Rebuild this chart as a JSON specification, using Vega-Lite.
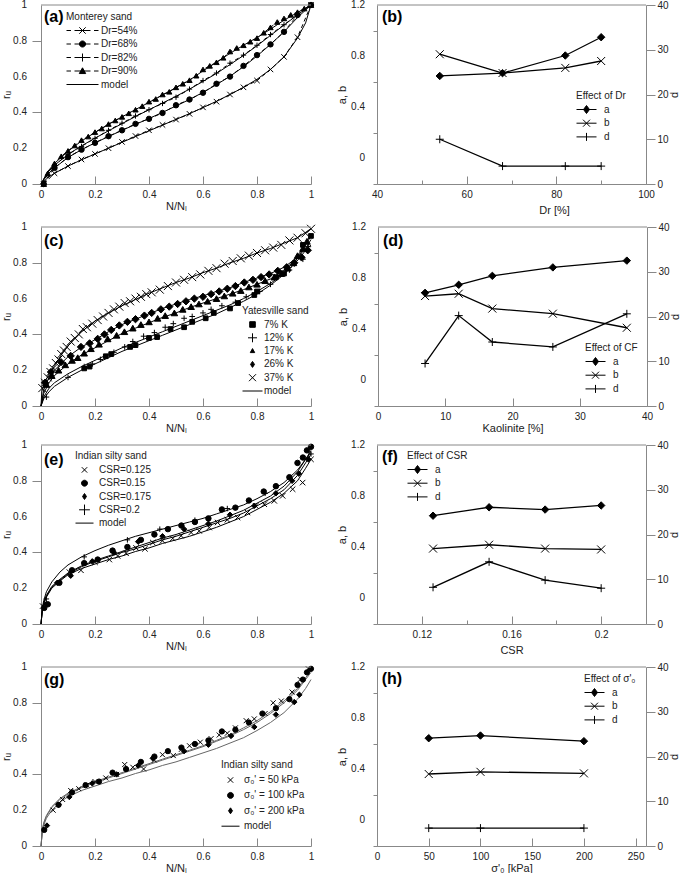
{
"$schema":"https://vega.github.io/schema/vega-lite/v6.json",
"padding":{"left":0,"top":0,"right":0,"bottom":0},
"spacing":7,
"config":{
 "view":{"stroke":null},
 "font":"Liberation Sans",
 "axis":{"labelFont":"Liberation Sans","labelFontSize":10,"labelColor":"#222","titleFont":"Liberation Sans","titleFontSize":11,"titleFontWeight":"normal","titleColor":"#222","domainColor":"#888","tickColor":"#888","grid":false,"labelFlush":false,"labelOverlap":false},
 "legend":{"labelFont":"Liberation Sans","labelFontSize":10,"labelColor":"#222","titleFont":"Liberation Sans","titleFontSize":10,"titleFontWeight":"normal","titleColor":"#222","symbolStrokeWidth":1,"rowPadding":2.5,"titlePadding":3,"padding":0,"symbolOpacity":1,"clipHeight":11},
 "text":{"font":"Liberation Sans"}
},
"datasets":{
"yticks":[{"v":0},{"v":0.2},{"v":0.4},{"v":0.6},{"v":0.8},{"v":1}],
"yticks2":[{"v":0},{"v":0.4},{"v":0.8},{"v":1.2}],
"a_pts":[
{"s":"Dr=54%","x":0.01,"y":0},{"s":"Dr=54%","x":0.05,"y":0.06},{"s":"Dr=54%","x":0.1,"y":0.1},{"s":"Dr=54%","x":0.15,"y":0.137},{"s":"Dr=54%","x":0.2,"y":0.168},{"s":"Dr=54%","x":0.25,"y":0.2},{"s":"Dr=54%","x":0.3,"y":0.235},{"s":"Dr=54%","x":0.35,"y":0.268},{"s":"Dr=54%","x":0.4,"y":0.3},{"s":"Dr=54%","x":0.45,"y":0.33},{"s":"Dr=54%","x":0.5,"y":0.36},{"s":"Dr=54%","x":0.55,"y":0.392},{"s":"Dr=54%","x":0.6,"y":0.428},{"s":"Dr=54%","x":0.65,"y":0.46},{"s":"Dr=54%","x":0.7,"y":0.5},{"s":"Dr=54%","x":0.75,"y":0.54},{"s":"Dr=54%","x":0.8,"y":0.578},{"s":"Dr=54%","x":0.85,"y":0.64},{"s":"Dr=54%","x":0.9,"y":0.71},{"s":"Dr=54%","x":0.95,"y":0.82},{"s":"Dr=54%","x":1,"y":1},
{"s":"Dr=68%","x":0.01,"y":0},{"s":"Dr=68%","x":0.05,"y":0.09},{"s":"Dr=68%","x":0.1,"y":0.15},{"s":"Dr=68%","x":0.15,"y":0.192},{"s":"Dr=68%","x":0.2,"y":0.23},{"s":"Dr=68%","x":0.25,"y":0.267},{"s":"Dr=68%","x":0.3,"y":0.3},{"s":"Dr=68%","x":0.35,"y":0.336},{"s":"Dr=68%","x":0.4,"y":0.364},{"s":"Dr=68%","x":0.45,"y":0.397},{"s":"Dr=68%","x":0.5,"y":0.44},{"s":"Dr=68%","x":0.55,"y":0.472},{"s":"Dr=68%","x":0.6,"y":0.51},{"s":"Dr=68%","x":0.65,"y":0.56},{"s":"Dr=68%","x":0.7,"y":0.6},{"s":"Dr=68%","x":0.75,"y":0.66},{"s":"Dr=68%","x":0.8,"y":0.72},{"s":"Dr=68%","x":0.85,"y":0.78},{"s":"Dr=68%","x":0.9,"y":0.85},{"s":"Dr=68%","x":0.95,"y":0.944},{"s":"Dr=68%","x":1,"y":1},
{"s":"Dr=82%","x":0.01,"y":0},{"s":"Dr=82%","x":0.05,"y":0.105},{"s":"Dr=82%","x":0.1,"y":0.165},{"s":"Dr=82%","x":0.15,"y":0.21},{"s":"Dr=82%","x":0.2,"y":0.255},{"s":"Dr=82%","x":0.25,"y":0.3},{"s":"Dr=82%","x":0.3,"y":0.34},{"s":"Dr=82%","x":0.35,"y":0.38},{"s":"Dr=82%","x":0.4,"y":0.415},{"s":"Dr=82%","x":0.45,"y":0.45},{"s":"Dr=82%","x":0.5,"y":0.485},{"s":"Dr=82%","x":0.55,"y":0.53},{"s":"Dr=82%","x":0.6,"y":0.578},{"s":"Dr=82%","x":0.65,"y":0.62},{"s":"Dr=82%","x":0.7,"y":0.675},{"s":"Dr=82%","x":0.75,"y":0.72},{"s":"Dr=82%","x":0.8,"y":0.775},{"s":"Dr=82%","x":0.85,"y":0.835},{"s":"Dr=82%","x":0.9,"y":0.89},{"s":"Dr=82%","x":0.95,"y":0.945},{"s":"Dr=82%","x":1,"y":1},
{"s":"Dr=90%","x":0.01,"y":0},{"s":"Dr=90%","x":0.025,"y":0.06},{"s":"Dr=90%","x":0.05,"y":0.115},{"s":"Dr=90%","x":0.075,"y":0.155},{"s":"Dr=90%","x":0.1,"y":0.185},{"s":"Dr=90%","x":0.125,"y":0.215},{"s":"Dr=90%","x":0.15,"y":0.245},{"s":"Dr=90%","x":0.175,"y":0.265},{"s":"Dr=90%","x":0.2,"y":0.29},{"s":"Dr=90%","x":0.225,"y":0.31},{"s":"Dr=90%","x":0.25,"y":0.335},{"s":"Dr=90%","x":0.275,"y":0.355},{"s":"Dr=90%","x":0.3,"y":0.375},{"s":"Dr=90%","x":0.325,"y":0.395},{"s":"Dr=90%","x":0.35,"y":0.415},{"s":"Dr=90%","x":0.375,"y":0.435},{"s":"Dr=90%","x":0.4,"y":0.46},{"s":"Dr=90%","x":0.425,"y":0.475},{"s":"Dr=90%","x":0.45,"y":0.5},{"s":"Dr=90%","x":0.475,"y":0.515},{"s":"Dr=90%","x":0.5,"y":0.54},{"s":"Dr=90%","x":0.525,"y":0.56},{"s":"Dr=90%","x":0.55,"y":0.58},{"s":"Dr=90%","x":0.575,"y":0.605},{"s":"Dr=90%","x":0.6,"y":0.64},{"s":"Dr=90%","x":0.625,"y":0.66},{"s":"Dr=90%","x":0.65,"y":0.68},{"s":"Dr=90%","x":0.675,"y":0.705},{"s":"Dr=90%","x":0.7,"y":0.74},{"s":"Dr=90%","x":0.725,"y":0.76},{"s":"Dr=90%","x":0.75,"y":0.775},{"s":"Dr=90%","x":0.775,"y":0.795},{"s":"Dr=90%","x":0.8,"y":0.815},{"s":"Dr=90%","x":0.825,"y":0.845},{"s":"Dr=90%","x":0.85,"y":0.875},{"s":"Dr=90%","x":0.875,"y":0.905},{"s":"Dr=90%","x":0.9,"y":0.925},{"s":"Dr=90%","x":0.925,"y":0.945},{"s":"Dr=90%","x":0.95,"y":0.96},{"s":"Dr=90%","x":0.975,"y":0.98},{"s":"Dr=90%","x":1,"y":1}
],
"a_mod":[
{"s":"Dr=54%","x":0,"y":0},{"s":"Dr=54%","x":0.025,"y":0.035},{"s":"Dr=54%","x":0.05,"y":0.06},{"s":"Dr=54%","x":0.1,"y":0.1},{"s":"Dr=54%","x":0.15,"y":0.135},{"s":"Dr=54%","x":0.2,"y":0.168},{"s":"Dr=54%","x":0.25,"y":0.2},{"s":"Dr=54%","x":0.3,"y":0.233},{"s":"Dr=54%","x":0.35,"y":0.265},{"s":"Dr=54%","x":0.4,"y":0.297},{"s":"Dr=54%","x":0.45,"y":0.329},{"s":"Dr=54%","x":0.5,"y":0.361},{"s":"Dr=54%","x":0.55,"y":0.393},{"s":"Dr=54%","x":0.6,"y":0.427},{"s":"Dr=54%","x":0.65,"y":0.462},{"s":"Dr=54%","x":0.7,"y":0.5},{"s":"Dr=54%","x":0.75,"y":0.54},{"s":"Dr=54%","x":0.8,"y":0.585},{"s":"Dr=54%","x":0.85,"y":0.64},{"s":"Dr=54%","x":0.9,"y":0.71},{"s":"Dr=54%","x":0.95,"y":0.815},{"s":"Dr=54%","x":0.98,"y":0.9},{"s":"Dr=54%","x":1,"y":1},
{"s":"Dr=68%","x":0,"y":0},{"s":"Dr=68%","x":0.025,"y":0.055},{"s":"Dr=68%","x":0.05,"y":0.09},{"s":"Dr=68%","x":0.1,"y":0.148},{"s":"Dr=68%","x":0.15,"y":0.192},{"s":"Dr=68%","x":0.2,"y":0.23},{"s":"Dr=68%","x":0.25,"y":0.265},{"s":"Dr=68%","x":0.3,"y":0.3},{"s":"Dr=68%","x":0.35,"y":0.333},{"s":"Dr=68%","x":0.4,"y":0.366},{"s":"Dr=68%","x":0.45,"y":0.4},{"s":"Dr=68%","x":0.5,"y":0.436},{"s":"Dr=68%","x":0.55,"y":0.472},{"s":"Dr=68%","x":0.6,"y":0.512},{"s":"Dr=68%","x":0.65,"y":0.555},{"s":"Dr=68%","x":0.7,"y":0.602},{"s":"Dr=68%","x":0.75,"y":0.655},{"s":"Dr=68%","x":0.8,"y":0.715},{"s":"Dr=68%","x":0.85,"y":0.78},{"s":"Dr=68%","x":0.9,"y":0.85},{"s":"Dr=68%","x":0.95,"y":0.93},{"s":"Dr=68%","x":1,"y":1},
{"s":"Dr=82%","x":0,"y":0},{"s":"Dr=82%","x":0.025,"y":0.065},{"s":"Dr=82%","x":0.05,"y":0.105},{"s":"Dr=82%","x":0.1,"y":0.165},{"s":"Dr=82%","x":0.15,"y":0.213},{"s":"Dr=82%","x":0.2,"y":0.256},{"s":"Dr=82%","x":0.25,"y":0.297},{"s":"Dr=82%","x":0.3,"y":0.337},{"s":"Dr=82%","x":0.35,"y":0.377},{"s":"Dr=82%","x":0.4,"y":0.415},{"s":"Dr=82%","x":0.45,"y":0.452},{"s":"Dr=82%","x":0.5,"y":0.49},{"s":"Dr=82%","x":0.55,"y":0.53},{"s":"Dr=82%","x":0.6,"y":0.573},{"s":"Dr=82%","x":0.65,"y":0.618},{"s":"Dr=82%","x":0.7,"y":0.667},{"s":"Dr=82%","x":0.75,"y":0.718},{"s":"Dr=82%","x":0.8,"y":0.772},{"s":"Dr=82%","x":0.85,"y":0.83},{"s":"Dr=82%","x":0.9,"y":0.888},{"s":"Dr=82%","x":0.95,"y":0.945},{"s":"Dr=82%","x":1,"y":1},
{"s":"Dr=90%","x":0,"y":0},{"s":"Dr=90%","x":0.025,"y":0.07},{"s":"Dr=90%","x":0.05,"y":0.115},{"s":"Dr=90%","x":0.1,"y":0.183},{"s":"Dr=90%","x":0.15,"y":0.24},{"s":"Dr=90%","x":0.2,"y":0.288},{"s":"Dr=90%","x":0.25,"y":0.333},{"s":"Dr=90%","x":0.3,"y":0.375},{"s":"Dr=90%","x":0.35,"y":0.416},{"s":"Dr=90%","x":0.4,"y":0.456},{"s":"Dr=90%","x":0.45,"y":0.497},{"s":"Dr=90%","x":0.5,"y":0.538},{"s":"Dr=90%","x":0.55,"y":0.58},{"s":"Dr=90%","x":0.6,"y":0.632},{"s":"Dr=90%","x":0.65,"y":0.68},{"s":"Dr=90%","x":0.7,"y":0.73},{"s":"Dr=90%","x":0.75,"y":0.775},{"s":"Dr=90%","x":0.8,"y":0.818},{"s":"Dr=90%","x":0.85,"y":0.865},{"s":"Dr=90%","x":0.9,"y":0.915},{"s":"Dr=90%","x":0.95,"y":0.958},{"s":"Dr=90%","x":1,"y":1}
],
"c_pts":[
{"s":"7% K","x":0.16,"y":0.21},{"s":"7% K","x":0.18,"y":0.22},{"s":"7% K","x":0.24,"y":0.278},{"s":"7% K","x":0.26,"y":0.29},{"s":"7% K","x":0.33,"y":0.33},{"s":"7% K","x":0.35,"y":0.34},{"s":"7% K","x":0.4,"y":0.38},{"s":"7% K","x":0.43,"y":0.385},{"s":"7% K","x":0.48,"y":0.43},{"s":"7% K","x":0.53,"y":0.44},{"s":"7% K","x":0.56,"y":0.47},{"s":"7% K","x":0.61,"y":0.49},{"s":"7% K","x":0.64,"y":0.52},{"s":"7% K","x":0.7,"y":0.545},{"s":"7% K","x":0.73,"y":0.575},{"s":"7% K","x":0.79,"y":0.62},{"s":"7% K","x":0.8,"y":0.64},{"s":"7% K","x":0.87,"y":0.72},{"s":"7% K","x":0.9,"y":0.74},{"s":"7% K","x":0.97,"y":0.9},{"s":"7% K","x":1,"y":0.95},
{"s":"12% K","x":0.02,"y":0.05},{"s":"12% K","x":0.1,"y":0.16},{"s":"12% K","x":0.16,"y":0.22},{"s":"12% K","x":0.19,"y":0.235},{"s":"12% K","x":0.22,"y":0.26},{"s":"12% K","x":0.27,"y":0.3},{"s":"12% K","x":0.31,"y":0.33},{"s":"12% K","x":0.34,"y":0.36},{"s":"12% K","x":0.38,"y":0.39},{"s":"12% K","x":0.42,"y":0.41},{"s":"12% K","x":0.46,"y":0.44},{"s":"12% K","x":0.49,"y":0.46},{"s":"12% K","x":0.53,"y":0.49},{"s":"12% K","x":0.56,"y":0.5},{"s":"12% K","x":0.6,"y":0.52},{"s":"12% K","x":0.63,"y":0.54},{"s":"12% K","x":0.67,"y":0.56},{"s":"12% K","x":0.72,"y":0.58},{"s":"12% K","x":0.76,"y":0.61},{"s":"12% K","x":0.81,"y":0.64},{"s":"12% K","x":0.85,"y":0.68},{"s":"12% K","x":0.92,"y":0.76},{"s":"12% K","x":0.97,"y":0.82},{"s":"12% K","x":0.99,"y":0.89},
{"s":"17% K","x":0.02,"y":0.12},{"s":"17% K","x":0.04,"y":0.17},{"s":"17% K","x":0.065,"y":0.2},{"s":"17% K","x":0.09,"y":0.23},{"s":"17% K","x":0.115,"y":0.255},{"s":"17% K","x":0.136,"y":0.27},{"s":"17% K","x":0.16,"y":0.295},{"s":"17% K","x":0.185,"y":0.32},{"s":"17% K","x":0.215,"y":0.345},{"s":"17% K","x":0.247,"y":0.375},{"s":"17% K","x":0.28,"y":0.395},{"s":"17% K","x":0.309,"y":0.415},{"s":"17% K","x":0.34,"y":0.435},{"s":"17% K","x":0.37,"y":0.455},{"s":"17% K","x":0.4,"y":0.47},{"s":"17% K","x":0.432,"y":0.49},{"s":"17% K","x":0.46,"y":0.505},{"s":"17% K","x":0.494,"y":0.52},{"s":"17% K","x":0.525,"y":0.54},{"s":"17% K","x":0.556,"y":0.555},{"s":"17% K","x":0.585,"y":0.57},{"s":"17% K","x":0.617,"y":0.585},{"s":"17% K","x":0.65,"y":0.6},{"s":"17% K","x":0.679,"y":0.615},{"s":"17% K","x":0.71,"y":0.63},{"s":"17% K","x":0.74,"y":0.645},{"s":"17% K","x":0.77,"y":0.665},{"s":"17% K","x":0.8,"y":0.68},{"s":"17% K","x":0.83,"y":0.7},{"s":"17% K","x":0.864,"y":0.72},{"s":"17% K","x":0.89,"y":0.74},{"s":"17% K","x":0.914,"y":0.77},{"s":"17% K","x":0.935,"y":0.8},{"s":"17% K","x":0.95,"y":0.84},{"s":"17% K","x":0.97,"y":0.88},{"s":"17% K","x":0.985,"y":0.92},
{"s":"26% K","x":0.015,"y":0.13},{"s":"26% K","x":0.037,"y":0.19},{"s":"26% K","x":0.074,"y":0.245},{"s":"26% K","x":0.11,"y":0.28},{"s":"26% K","x":0.148,"y":0.33},{"s":"26% K","x":0.18,"y":0.35},{"s":"26% K","x":0.21,"y":0.375},{"s":"26% K","x":0.235,"y":0.4},{"s":"26% K","x":0.26,"y":0.425},{"s":"26% K","x":0.29,"y":0.45},{"s":"26% K","x":0.32,"y":0.47},{"s":"26% K","x":0.35,"y":0.485},{"s":"26% K","x":0.383,"y":0.505},{"s":"26% K","x":0.41,"y":0.52},{"s":"26% K","x":0.444,"y":0.54},{"s":"26% K","x":0.475,"y":0.555},{"s":"26% K","x":0.506,"y":0.57},{"s":"26% K","x":0.537,"y":0.585},{"s":"26% K","x":0.568,"y":0.6},{"s":"26% K","x":0.6,"y":0.61},{"s":"26% K","x":0.63,"y":0.625},{"s":"26% K","x":0.66,"y":0.64},{"s":"26% K","x":0.69,"y":0.655},{"s":"26% K","x":0.72,"y":0.67},{"s":"26% K","x":0.753,"y":0.69},{"s":"26% K","x":0.785,"y":0.705},{"s":"26% K","x":0.815,"y":0.72},{"s":"26% K","x":0.845,"y":0.735},{"s":"26% K","x":0.877,"y":0.755},{"s":"26% K","x":0.91,"y":0.775},{"s":"26% K","x":0.938,"y":0.8},{"s":"26% K","x":0.965,"y":0.83},{"s":"26% K","x":0.988,"y":0.87},
{"s":"37% K","x":0.005,"y":0.1},{"s":"37% K","x":0.015,"y":0.13},{"s":"37% K","x":0.025,"y":0.16},{"s":"37% K","x":0.035,"y":0.19},{"s":"37% K","x":0.045,"y":0.21},{"s":"37% K","x":0.055,"y":0.24},{"s":"37% K","x":0.065,"y":0.26},{"s":"37% K","x":0.075,"y":0.29},{"s":"37% K","x":0.085,"y":0.31},{"s":"37% K","x":0.095,"y":0.33},{"s":"37% K","x":0.11,"y":0.36},{"s":"37% K","x":0.125,"y":0.38},{"s":"37% K","x":0.14,"y":0.4},{"s":"37% K","x":0.155,"y":0.43},{"s":"37% K","x":0.17,"y":0.44},{"s":"37% K","x":0.19,"y":0.46},{"s":"37% K","x":0.21,"y":0.48},{"s":"37% K","x":0.23,"y":0.5},{"s":"37% K","x":0.25,"y":0.52},{"s":"37% K","x":0.27,"y":0.54},{"s":"37% K","x":0.29,"y":0.555},{"s":"37% K","x":0.31,"y":0.575},{"s":"37% K","x":0.33,"y":0.585},{"s":"37% K","x":0.35,"y":0.6},{"s":"37% K","x":0.37,"y":0.61},{"s":"37% K","x":0.39,"y":0.625},{"s":"37% K","x":0.41,"y":0.635},{"s":"37% K","x":0.44,"y":0.65},{"s":"37% K","x":0.47,"y":0.67},{"s":"37% K","x":0.5,"y":0.69},{"s":"37% K","x":0.53,"y":0.705},{"s":"37% K","x":0.56,"y":0.72},{"s":"37% K","x":0.59,"y":0.735},{"s":"37% K","x":0.62,"y":0.755},{"s":"37% K","x":0.65,"y":0.77},{"s":"37% K","x":0.68,"y":0.795},{"s":"37% K","x":0.71,"y":0.81},{"s":"37% K","x":0.74,"y":0.825},{"s":"37% K","x":0.77,"y":0.84},{"s":"37% K","x":0.8,"y":0.855},{"s":"37% K","x":0.83,"y":0.87},{"s":"37% K","x":0.86,"y":0.885},{"s":"37% K","x":0.89,"y":0.9},{"s":"37% K","x":0.92,"y":0.925},{"s":"37% K","x":0.95,"y":0.94},{"s":"37% K","x":0.98,"y":0.965},{"s":"37% K","x":1,"y":0.99}
],
"c_mod":[
{"s":"7% K","x":0,"y":0},{"s":"7% K","x":0.01,"y":0.04},{"s":"7% K","x":0.03,"y":0.08},{"s":"7% K","x":0.05,"y":0.11},{"s":"7% K","x":0.1,"y":0.16},{"s":"7% K","x":0.15,"y":0.2},{"s":"7% K","x":0.2,"y":0.235},{"s":"7% K","x":0.25,"y":0.27},{"s":"7% K","x":0.3,"y":0.305},{"s":"7% K","x":0.35,"y":0.335},{"s":"7% K","x":0.4,"y":0.365},{"s":"7% K","x":0.45,"y":0.395},{"s":"7% K","x":0.5,"y":0.425},{"s":"7% K","x":0.55,"y":0.455},{"s":"7% K","x":0.6,"y":0.485},{"s":"7% K","x":0.65,"y":0.515},{"s":"7% K","x":0.7,"y":0.55},{"s":"7% K","x":0.75,"y":0.585},{"s":"7% K","x":0.8,"y":0.625},{"s":"7% K","x":0.85,"y":0.675},{"s":"7% K","x":0.9,"y":0.735},{"s":"7% K","x":0.93,"y":0.78},{"s":"7% K","x":0.96,"y":0.85},{"s":"7% K","x":0.98,"y":0.9},{"s":"7% K","x":1,"y":0.95},
{"s":"12% K","x":0,"y":0},{"s":"12% K","x":0.01,"y":0.05},{"s":"12% K","x":0.03,"y":0.1},{"s":"12% K","x":0.05,"y":0.13},{"s":"12% K","x":0.1,"y":0.18},{"s":"12% K","x":0.15,"y":0.22},{"s":"12% K","x":0.2,"y":0.255},{"s":"12% K","x":0.25,"y":0.29},{"s":"12% K","x":0.3,"y":0.325},{"s":"12% K","x":0.35,"y":0.355},{"s":"12% K","x":0.4,"y":0.385},{"s":"12% K","x":0.45,"y":0.415},{"s":"12% K","x":0.5,"y":0.445},{"s":"12% K","x":0.55,"y":0.475},{"s":"12% K","x":0.6,"y":0.505},{"s":"12% K","x":0.65,"y":0.535},{"s":"12% K","x":0.7,"y":0.565},{"s":"12% K","x":0.75,"y":0.6},{"s":"12% K","x":0.8,"y":0.64},{"s":"12% K","x":0.85,"y":0.685},{"s":"12% K","x":0.9,"y":0.74},{"s":"12% K","x":0.93,"y":0.78},{"s":"12% K","x":0.96,"y":0.83},{"s":"12% K","x":0.98,"y":0.87},{"s":"12% K","x":1,"y":0.9},
{"s":"17% K","x":0,"y":0},{"s":"17% K","x":0.01,"y":0.07},{"s":"17% K","x":0.03,"y":0.13},{"s":"17% K","x":0.05,"y":0.17},{"s":"17% K","x":0.1,"y":0.235},{"s":"17% K","x":0.15,"y":0.285},{"s":"17% K","x":0.2,"y":0.325},{"s":"17% K","x":0.25,"y":0.365},{"s":"17% K","x":0.3,"y":0.405},{"s":"17% K","x":0.35,"y":0.435},{"s":"17% K","x":0.4,"y":0.465},{"s":"17% K","x":0.45,"y":0.495},{"s":"17% K","x":0.5,"y":0.52},{"s":"17% K","x":0.55,"y":0.55},{"s":"17% K","x":0.6,"y":0.575},{"s":"17% K","x":0.65,"y":0.6},{"s":"17% K","x":0.7,"y":0.625},{"s":"17% K","x":0.75,"y":0.65},{"s":"17% K","x":0.8,"y":0.68},{"s":"17% K","x":0.85,"y":0.71},{"s":"17% K","x":0.9,"y":0.76},{"s":"17% K","x":0.93,"y":0.8},{"s":"17% K","x":0.96,"y":0.86},{"s":"17% K","x":0.98,"y":0.91},{"s":"17% K","x":1,"y":0.96},
{"s":"26% K","x":0,"y":0},{"s":"26% K","x":0.01,"y":0.09},{"s":"26% K","x":0.03,"y":0.16},{"s":"26% K","x":0.05,"y":0.2},{"s":"26% K","x":0.1,"y":0.275},{"s":"26% K","x":0.15,"y":0.33},{"s":"26% K","x":0.2,"y":0.37},{"s":"26% K","x":0.25,"y":0.415},{"s":"26% K","x":0.3,"y":0.455},{"s":"26% K","x":0.35,"y":0.485},{"s":"26% K","x":0.4,"y":0.515},{"s":"26% K","x":0.45,"y":0.545},{"s":"26% K","x":0.5,"y":0.57},{"s":"26% K","x":0.55,"y":0.595},{"s":"26% K","x":0.6,"y":0.615},{"s":"26% K","x":0.65,"y":0.64},{"s":"26% K","x":0.7,"y":0.66},{"s":"26% K","x":0.75,"y":0.69},{"s":"26% K","x":0.8,"y":0.715},{"s":"26% K","x":0.85,"y":0.74},{"s":"26% K","x":0.9,"y":0.775},{"s":"26% K","x":0.95,"y":0.83},{"s":"26% K","x":0.98,"y":0.88},{"s":"26% K","x":1,"y":0.93},
{"s":"37% K","x":0,"y":0},{"s":"37% K","x":0.003,"y":0.08},{"s":"37% K","x":0.01,"y":0.12},{"s":"37% K","x":0.03,"y":0.18},{"s":"37% K","x":0.05,"y":0.225},{"s":"37% K","x":0.075,"y":0.285},{"s":"37% K","x":0.1,"y":0.335},{"s":"37% K","x":0.15,"y":0.415},{"s":"37% K","x":0.2,"y":0.475},{"s":"37% K","x":0.25,"y":0.52},{"s":"37% K","x":0.3,"y":0.56},{"s":"37% K","x":0.35,"y":0.595},{"s":"37% K","x":0.4,"y":0.63},{"s":"37% K","x":0.45,"y":0.66},{"s":"37% K","x":0.5,"y":0.69},{"s":"37% K","x":0.55,"y":0.715},{"s":"37% K","x":0.6,"y":0.745},{"s":"37% K","x":0.65,"y":0.77},{"s":"37% K","x":0.7,"y":0.8},{"s":"37% K","x":0.75,"y":0.825},{"s":"37% K","x":0.8,"y":0.855},{"s":"37% K","x":0.85,"y":0.88},{"s":"37% K","x":0.9,"y":0.91},{"s":"37% K","x":0.95,"y":0.94},{"s":"37% K","x":1,"y":0.99}
],
"e_pts":[
{"s":"CSR=0.125","x":0.006,"y":0.1},{"s":"CSR=0.125","x":0.105,"y":0.29},{"s":"CSR=0.125","x":0.148,"y":0.3},{"s":"CSR=0.125","x":0.2,"y":0.345},{"s":"CSR=0.125","x":0.253,"y":0.36},{"s":"CSR=0.125","x":0.284,"y":0.38},{"s":"CSR=0.125","x":0.315,"y":0.395},{"s":"CSR=0.125","x":0.352,"y":0.425},{"s":"CSR=0.125","x":0.385,"y":0.42},{"s":"CSR=0.125","x":0.414,"y":0.455},{"s":"CSR=0.125","x":0.45,"y":0.465},{"s":"CSR=0.125","x":0.488,"y":0.478},{"s":"CSR=0.125","x":0.519,"y":0.493},{"s":"CSR=0.125","x":0.556,"y":0.511},{"s":"CSR=0.125","x":0.586,"y":0.52},{"s":"CSR=0.125","x":0.623,"y":0.539},{"s":"CSR=0.125","x":0.654,"y":0.567},{"s":"CSR=0.125","x":0.69,"y":0.582},{"s":"CSR=0.125","x":0.728,"y":0.595},{"s":"CSR=0.125","x":0.765,"y":0.623},{"s":"CSR=0.125","x":0.795,"y":0.66},{"s":"CSR=0.125","x":0.827,"y":0.669},{"s":"CSR=0.125","x":0.864,"y":0.688},{"s":"CSR=0.125","x":0.895,"y":0.716},{"s":"CSR=0.125","x":0.932,"y":0.753},{"s":"CSR=0.125","x":0.969,"y":0.79},{"s":"CSR=0.125","x":1,"y":0.92},
{"s":"CSR=0.15","x":0.012,"y":0.09},{"s":"CSR=0.15","x":0.025,"y":0.11},{"s":"CSR=0.15","x":0.068,"y":0.23},{"s":"CSR=0.15","x":0.115,"y":0.3},{"s":"CSR=0.15","x":0.16,"y":0.34},{"s":"CSR=0.15","x":0.21,"y":0.36},{"s":"CSR=0.15","x":0.265,"y":0.41},{"s":"CSR=0.15","x":0.32,"y":0.43},{"s":"CSR=0.15","x":0.37,"y":0.47},{"s":"CSR=0.15","x":0.42,"y":0.5},{"s":"CSR=0.15","x":0.47,"y":0.53},{"s":"CSR=0.15","x":0.52,"y":0.55},{"s":"CSR=0.15","x":0.57,"y":0.57},{"s":"CSR=0.15","x":0.62,"y":0.59},{"s":"CSR=0.15","x":0.67,"y":0.64},{"s":"CSR=0.15","x":0.72,"y":0.65},{"s":"CSR=0.15","x":0.77,"y":0.69},{"s":"CSR=0.15","x":0.825,"y":0.74},{"s":"CSR=0.15","x":0.87,"y":0.77},{"s":"CSR=0.15","x":0.92,"y":0.82},{"s":"CSR=0.15","x":0.95,"y":0.9},{"s":"CSR=0.15","x":0.97,"y":0.93},{"s":"CSR=0.15","x":0.985,"y":0.97},{"s":"CSR=0.15","x":1,"y":0.99},
{"s":"CSR=0.175","x":0.02,"y":0.11},{"s":"CSR=0.175","x":0.06,"y":0.23},{"s":"CSR=0.175","x":0.11,"y":0.27},{"s":"CSR=0.175","x":0.19,"y":0.35},{"s":"CSR=0.175","x":0.27,"y":0.4},{"s":"CSR=0.175","x":0.36,"y":0.46},{"s":"CSR=0.175","x":0.45,"y":0.49},{"s":"CSR=0.175","x":0.53,"y":0.53},{"s":"CSR=0.175","x":0.62,"y":0.56},{"s":"CSR=0.175","x":0.7,"y":0.61},{"s":"CSR=0.175","x":0.79,"y":0.66},{"s":"CSR=0.175","x":0.87,"y":0.73},{"s":"CSR=0.175","x":0.93,"y":0.8},{"s":"CSR=0.175","x":0.955,"y":0.84},{"s":"CSR=0.175","x":0.99,"y":0.92},
{"s":"CSR=0.2","x":0.02,"y":0.14},{"s":"CSR=0.2","x":0.16,"y":0.375},{"s":"CSR=0.2","x":0.32,"y":0.47},{"s":"CSR=0.2","x":0.44,"y":0.53},{"s":"CSR=0.2","x":0.57,"y":0.58},{"s":"CSR=0.2","x":0.69,"y":0.645},{"s":"CSR=0.2","x":0.83,"y":0.73},{"s":"CSR=0.2","x":1,"y":0.95}
],
"e_mod":[
{"s":"CSR=0.125","x":0,"y":0},{"s":"CSR=0.125","x":0.005,"y":0.08},{"s":"CSR=0.125","x":0.01,"y":0.11},{"s":"CSR=0.125","x":0.02,"y":0.15},{"s":"CSR=0.125","x":0.04,"y":0.2},{"s":"CSR=0.125","x":0.07,"y":0.24},{"s":"CSR=0.125","x":0.1,"y":0.275},{"s":"CSR=0.125","x":0.15,"y":0.31},{"s":"CSR=0.125","x":0.2,"y":0.335},{"s":"CSR=0.125","x":0.25,"y":0.36},{"s":"CSR=0.125","x":0.3,"y":0.38},{"s":"CSR=0.125","x":0.35,"y":0.405},{"s":"CSR=0.125","x":0.4,"y":0.425},{"s":"CSR=0.125","x":0.45,"y":0.45},{"s":"CSR=0.125","x":0.5,"y":0.47},{"s":"CSR=0.125","x":0.55,"y":0.49},{"s":"CSR=0.125","x":0.6,"y":0.515},{"s":"CSR=0.125","x":0.65,"y":0.54},{"s":"CSR=0.125","x":0.7,"y":0.57},{"s":"CSR=0.125","x":0.75,"y":0.6},{"s":"CSR=0.125","x":0.8,"y":0.64},{"s":"CSR=0.125","x":0.85,"y":0.68},{"s":"CSR=0.125","x":0.9,"y":0.73},{"s":"CSR=0.125","x":0.95,"y":0.8},{"s":"CSR=0.125","x":0.98,"y":0.87},{"s":"CSR=0.125","x":1,"y":0.92},
{"s":"CSR=0.15","x":0,"y":0},{"s":"CSR=0.15","x":0.005,"y":0.08},{"s":"CSR=0.15","x":0.01,"y":0.12},{"s":"CSR=0.15","x":0.02,"y":0.16},{"s":"CSR=0.15","x":0.04,"y":0.21},{"s":"CSR=0.15","x":0.07,"y":0.25},{"s":"CSR=0.15","x":0.1,"y":0.285},{"s":"CSR=0.15","x":0.15,"y":0.325},{"s":"CSR=0.15","x":0.2,"y":0.355},{"s":"CSR=0.15","x":0.25,"y":0.38},{"s":"CSR=0.15","x":0.3,"y":0.405},{"s":"CSR=0.15","x":0.35,"y":0.43},{"s":"CSR=0.15","x":0.4,"y":0.455},{"s":"CSR=0.15","x":0.45,"y":0.48},{"s":"CSR=0.15","x":0.5,"y":0.5},{"s":"CSR=0.15","x":0.55,"y":0.525},{"s":"CSR=0.15","x":0.6,"y":0.55},{"s":"CSR=0.15","x":0.65,"y":0.575},{"s":"CSR=0.15","x":0.7,"y":0.605},{"s":"CSR=0.15","x":0.75,"y":0.635},{"s":"CSR=0.15","x":0.8,"y":0.675},{"s":"CSR=0.15","x":0.85,"y":0.715},{"s":"CSR=0.15","x":0.9,"y":0.77},{"s":"CSR=0.15","x":0.95,"y":0.85},{"s":"CSR=0.15","x":0.98,"y":0.92},{"s":"CSR=0.15","x":1,"y":0.97},
{"s":"CSR=0.175","x":0,"y":0},{"s":"CSR=0.175","x":0.005,"y":0.08},{"s":"CSR=0.175","x":0.01,"y":0.115},{"s":"CSR=0.175","x":0.02,"y":0.155},{"s":"CSR=0.175","x":0.04,"y":0.205},{"s":"CSR=0.175","x":0.07,"y":0.245},{"s":"CSR=0.175","x":0.1,"y":0.28},{"s":"CSR=0.175","x":0.15,"y":0.32},{"s":"CSR=0.175","x":0.2,"y":0.35},{"s":"CSR=0.175","x":0.25,"y":0.375},{"s":"CSR=0.175","x":0.3,"y":0.4},{"s":"CSR=0.175","x":0.35,"y":0.42},{"s":"CSR=0.175","x":0.4,"y":0.445},{"s":"CSR=0.175","x":0.45,"y":0.47},{"s":"CSR=0.175","x":0.5,"y":0.49},{"s":"CSR=0.175","x":0.55,"y":0.515},{"s":"CSR=0.175","x":0.6,"y":0.54},{"s":"CSR=0.175","x":0.65,"y":0.565},{"s":"CSR=0.175","x":0.7,"y":0.59},{"s":"CSR=0.175","x":0.75,"y":0.62},{"s":"CSR=0.175","x":0.8,"y":0.66},{"s":"CSR=0.175","x":0.85,"y":0.7},{"s":"CSR=0.175","x":0.9,"y":0.75},{"s":"CSR=0.175","x":0.95,"y":0.83},{"s":"CSR=0.175","x":0.98,"y":0.9},{"s":"CSR=0.175","x":1,"y":0.95},
{"s":"CSR=0.2","x":0,"y":0},{"s":"CSR=0.2","x":0.005,"y":0.09},{"s":"CSR=0.2","x":0.01,"y":0.13},{"s":"CSR=0.2","x":0.02,"y":0.18},{"s":"CSR=0.2","x":0.04,"y":0.235},{"s":"CSR=0.2","x":0.07,"y":0.29},{"s":"CSR=0.2","x":0.1,"y":0.33},{"s":"CSR=0.2","x":0.15,"y":0.375},{"s":"CSR=0.2","x":0.2,"y":0.41},{"s":"CSR=0.2","x":0.25,"y":0.44},{"s":"CSR=0.2","x":0.3,"y":0.465},{"s":"CSR=0.2","x":0.35,"y":0.49},{"s":"CSR=0.2","x":0.4,"y":0.51},{"s":"CSR=0.2","x":0.45,"y":0.53},{"s":"CSR=0.2","x":0.5,"y":0.55},{"s":"CSR=0.2","x":0.55,"y":0.57},{"s":"CSR=0.2","x":0.6,"y":0.59},{"s":"CSR=0.2","x":0.65,"y":0.615},{"s":"CSR=0.2","x":0.7,"y":0.64},{"s":"CSR=0.2","x":0.75,"y":0.665},{"s":"CSR=0.2","x":0.8,"y":0.7},{"s":"CSR=0.2","x":0.85,"y":0.74},{"s":"CSR=0.2","x":0.9,"y":0.79},{"s":"CSR=0.2","x":0.95,"y":0.86},{"s":"CSR=0.2","x":0.98,"y":0.92},{"s":"CSR=0.2","x":1,"y":0.96}
],
"g_pts":[
{"s":"σ₀' = 50 kPa","x":0.045,"y":0.2},{"s":"σ₀' = 50 kPa","x":0.08,"y":0.26},{"s":"σ₀' = 50 kPa","x":0.11,"y":0.31},{"s":"σ₀' = 50 kPa","x":0.14,"y":0.32},{"s":"σ₀' = 50 kPa","x":0.17,"y":0.34},{"s":"σ₀' = 50 kPa","x":0.2,"y":0.36},{"s":"σ₀' = 50 kPa","x":0.24,"y":0.38},{"s":"σ₀' = 50 kPa","x":0.28,"y":0.4},{"s":"σ₀' = 50 kPa","x":0.31,"y":0.455},{"s":"σ₀' = 50 kPa","x":0.34,"y":0.44},{"s":"σ₀' = 50 kPa","x":0.38,"y":0.43},{"s":"σ₀' = 50 kPa","x":0.42,"y":0.48},{"s":"σ₀' = 50 kPa","x":0.45,"y":0.51},{"s":"σ₀' = 50 kPa","x":0.49,"y":0.505},{"s":"σ₀' = 50 kPa","x":0.52,"y":0.54},{"s":"σ₀' = 50 kPa","x":0.55,"y":0.56},{"s":"σ₀' = 50 kPa","x":0.59,"y":0.58},{"s":"σ₀' = 50 kPa","x":0.63,"y":0.6},{"s":"σ₀' = 50 kPa","x":0.66,"y":0.62},{"s":"σ₀' = 50 kPa","x":0.69,"y":0.63},{"s":"σ₀' = 50 kPa","x":0.72,"y":0.66},{"s":"σ₀' = 50 kPa","x":0.76,"y":0.7},{"s":"σ₀' = 50 kPa","x":0.79,"y":0.71},{"s":"σ₀' = 50 kPa","x":0.83,"y":0.74},{"s":"σ₀' = 50 kPa","x":0.86,"y":0.8},{"s":"σ₀' = 50 kPa","x":0.89,"y":0.81},{"s":"σ₀' = 50 kPa","x":0.93,"y":0.86},{"s":"σ₀' = 50 kPa","x":0.96,"y":0.93},{"s":"σ₀' = 50 kPa","x":0.99,"y":0.99},
{"s":"σ₀' = 100 kPa","x":0.012,"y":0.09},{"s":"σ₀' = 100 kPa","x":0.065,"y":0.23},{"s":"σ₀' = 100 kPa","x":0.115,"y":0.3},{"s":"σ₀' = 100 kPa","x":0.165,"y":0.34},{"s":"σ₀' = 100 kPa","x":0.215,"y":0.36},{"s":"σ₀' = 100 kPa","x":0.265,"y":0.41},{"s":"σ₀' = 100 kPa","x":0.315,"y":0.43},{"s":"σ₀' = 100 kPa","x":0.37,"y":0.47},{"s":"σ₀' = 100 kPa","x":0.42,"y":0.5},{"s":"σ₀' = 100 kPa","x":0.47,"y":0.53},{"s":"σ₀' = 100 kPa","x":0.52,"y":0.55},{"s":"σ₀' = 100 kPa","x":0.57,"y":0.57},{"s":"σ₀' = 100 kPa","x":0.62,"y":0.59},{"s":"σ₀' = 100 kPa","x":0.67,"y":0.64},{"s":"σ₀' = 100 kPa","x":0.72,"y":0.65},{"s":"σ₀' = 100 kPa","x":0.77,"y":0.69},{"s":"σ₀' = 100 kPa","x":0.82,"y":0.74},{"s":"σ₀' = 100 kPa","x":0.87,"y":0.77},{"s":"σ₀' = 100 kPa","x":0.92,"y":0.82},{"s":"σ₀' = 100 kPa","x":0.95,"y":0.9},{"s":"σ₀' = 100 kPa","x":0.97,"y":0.93},{"s":"σ₀' = 100 kPa","x":0.985,"y":0.97},{"s":"σ₀' = 100 kPa","x":1,"y":0.99},
{"s":"σ₀' = 200 kPa","x":0.022,"y":0.114},{"s":"σ₀' = 200 kPa","x":0.065,"y":0.23},{"s":"σ₀' = 200 kPa","x":0.105,"y":0.274},{"s":"σ₀' = 200 kPa","x":0.19,"y":0.35},{"s":"σ₀' = 200 kPa","x":0.28,"y":0.4},{"s":"σ₀' = 200 kPa","x":0.36,"y":0.45},{"s":"σ₀' = 200 kPa","x":0.414,"y":0.49},{"s":"σ₀' = 200 kPa","x":0.53,"y":0.53},{"s":"σ₀' = 200 kPa","x":0.62,"y":0.566},{"s":"σ₀' = 200 kPa","x":0.704,"y":0.615},{"s":"σ₀' = 200 kPa","x":0.79,"y":0.665},{"s":"σ₀' = 200 kPa","x":0.87,"y":0.734},{"s":"σ₀' = 200 kPa","x":0.938,"y":0.804},{"s":"σ₀' = 200 kPa","x":0.957,"y":0.845}
],
"g_mod":[
{"s":"σ₀' = 50 kPa","x":0,"y":0},{"s":"σ₀' = 50 kPa","x":0.005,"y":0.09},{"s":"σ₀' = 50 kPa","x":0.01,"y":0.13},{"s":"σ₀' = 50 kPa","x":0.02,"y":0.17},{"s":"σ₀' = 50 kPa","x":0.04,"y":0.22},{"s":"σ₀' = 50 kPa","x":0.07,"y":0.265},{"s":"σ₀' = 50 kPa","x":0.1,"y":0.295},{"s":"σ₀' = 50 kPa","x":0.15,"y":0.33},{"s":"σ₀' = 50 kPa","x":0.2,"y":0.36},{"s":"σ₀' = 50 kPa","x":0.25,"y":0.385},{"s":"σ₀' = 50 kPa","x":0.3,"y":0.41},{"s":"σ₀' = 50 kPa","x":0.35,"y":0.435},{"s":"σ₀' = 50 kPa","x":0.4,"y":0.46},{"s":"σ₀' = 50 kPa","x":0.45,"y":0.485},{"s":"σ₀' = 50 kPa","x":0.5,"y":0.51},{"s":"σ₀' = 50 kPa","x":0.55,"y":0.535},{"s":"σ₀' = 50 kPa","x":0.6,"y":0.56},{"s":"σ₀' = 50 kPa","x":0.65,"y":0.59},{"s":"σ₀' = 50 kPa","x":0.7,"y":0.62},{"s":"σ₀' = 50 kPa","x":0.75,"y":0.66},{"s":"σ₀' = 50 kPa","x":0.8,"y":0.7},{"s":"σ₀' = 50 kPa","x":0.85,"y":0.75},{"s":"σ₀' = 50 kPa","x":0.9,"y":0.81},{"s":"σ₀' = 50 kPa","x":0.95,"y":0.88},{"s":"σ₀' = 50 kPa","x":0.98,"y":0.94},{"s":"σ₀' = 50 kPa","x":1,"y":0.98},
{"s":"σ₀' = 100 kPa","x":0,"y":0},{"s":"σ₀' = 100 kPa","x":0.005,"y":0.085},{"s":"σ₀' = 100 kPa","x":0.01,"y":0.125},{"s":"σ₀' = 100 kPa","x":0.02,"y":0.165},{"s":"σ₀' = 100 kPa","x":0.04,"y":0.215},{"s":"σ₀' = 100 kPa","x":0.07,"y":0.26},{"s":"σ₀' = 100 kPa","x":0.1,"y":0.29},{"s":"σ₀' = 100 kPa","x":0.15,"y":0.325},{"s":"σ₀' = 100 kPa","x":0.2,"y":0.355},{"s":"σ₀' = 100 kPa","x":0.25,"y":0.38},{"s":"σ₀' = 100 kPa","x":0.3,"y":0.405},{"s":"σ₀' = 100 kPa","x":0.35,"y":0.43},{"s":"σ₀' = 100 kPa","x":0.4,"y":0.455},{"s":"σ₀' = 100 kPa","x":0.45,"y":0.48},{"s":"σ₀' = 100 kPa","x":0.5,"y":0.505},{"s":"σ₀' = 100 kPa","x":0.55,"y":0.53},{"s":"σ₀' = 100 kPa","x":0.6,"y":0.555},{"s":"σ₀' = 100 kPa","x":0.65,"y":0.585},{"s":"σ₀' = 100 kPa","x":0.7,"y":0.615},{"s":"σ₀' = 100 kPa","x":0.75,"y":0.65},{"s":"σ₀' = 100 kPa","x":0.8,"y":0.69},{"s":"σ₀' = 100 kPa","x":0.85,"y":0.74},{"s":"σ₀' = 100 kPa","x":0.9,"y":0.8},{"s":"σ₀' = 100 kPa","x":0.95,"y":0.87},{"s":"σ₀' = 100 kPa","x":0.98,"y":0.93},{"s":"σ₀' = 100 kPa","x":1,"y":0.97},
{"s":"σ₀' = 200 kPa","x":0,"y":0},{"s":"σ₀' = 200 kPa","x":0.005,"y":0.08},{"s":"σ₀' = 200 kPa","x":0.01,"y":0.115},{"s":"σ₀' = 200 kPa","x":0.02,"y":0.155},{"s":"σ₀' = 200 kPa","x":0.04,"y":0.2},{"s":"σ₀' = 200 kPa","x":0.07,"y":0.245},{"s":"σ₀' = 200 kPa","x":0.1,"y":0.275},{"s":"σ₀' = 200 kPa","x":0.15,"y":0.31},{"s":"σ₀' = 200 kPa","x":0.2,"y":0.335},{"s":"σ₀' = 200 kPa","x":0.25,"y":0.36},{"s":"σ₀' = 200 kPa","x":0.3,"y":0.38},{"s":"σ₀' = 200 kPa","x":0.35,"y":0.405},{"s":"σ₀' = 200 kPa","x":0.4,"y":0.425},{"s":"σ₀' = 200 kPa","x":0.45,"y":0.45},{"s":"σ₀' = 200 kPa","x":0.5,"y":0.47},{"s":"σ₀' = 200 kPa","x":0.55,"y":0.495},{"s":"σ₀' = 200 kPa","x":0.6,"y":0.52},{"s":"σ₀' = 200 kPa","x":0.65,"y":0.545},{"s":"σ₀' = 200 kPa","x":0.7,"y":0.575},{"s":"σ₀' = 200 kPa","x":0.75,"y":0.605},{"s":"σ₀' = 200 kPa","x":0.8,"y":0.645},{"s":"σ₀' = 200 kPa","x":0.85,"y":0.69},{"s":"σ₀' = 200 kPa","x":0.9,"y":0.745},{"s":"σ₀' = 200 kPa","x":0.95,"y":0.82},{"s":"σ₀' = 200 kPa","x":0.98,"y":0.88},{"s":"σ₀' = 200 kPa","x":1,"y":0.93}
],
"b":[{"p":"a","x":54,"v":0.645},{"p":"a","x":68,"v":0.667},{"p":"a","x":82,"v":0.805},{"p":"a","x":90,"v":0.948},{"p":"b","x":54,"v":0.815},{"p":"b","x":68,"v":0.668},{"p":"b","x":82,"v":0.708},{"p":"b","x":90,"v":0.762},{"p":"d","x":54,"v":10},{"p":"d","x":68,"v":4},{"p":"d","x":82,"v":4},{"p":"d","x":90,"v":4}],
"d":[{"p":"a","x":7,"v":0.685},{"p":"a","x":12,"v":0.748},{"p":"a","x":17,"v":0.818},{"p":"a","x":26,"v":0.884},{"p":"a","x":37,"v":0.937},{"p":"b","x":7,"v":0.66},{"p":"b","x":12,"v":0.678},{"p":"b","x":17,"v":0.562},{"p":"b","x":26,"v":0.522},{"p":"b","x":37,"v":0.412},{"p":"d","x":7,"v":9.5},{"p":"d","x":12,"v":20.2},{"p":"d","x":17,"v":14.3},{"p":"d","x":26,"v":13.2},{"p":"d","x":37,"v":20.6}],
"f":[{"p":"a","x":0.125,"v":0.647},{"p":"a","x":0.15,"v":0.713},{"p":"a","x":0.175,"v":0.695},{"p":"a","x":0.2,"v":0.727},{"p":"b","x":0.125,"v":0.39},{"p":"b","x":0.15,"v":0.42},{"p":"b","x":0.175,"v":0.39},{"p":"b","x":0.2,"v":0.383},{"p":"d","x":0.125,"v":8.2},{"p":"d","x":0.15,"v":13.9},{"p":"d","x":0.175,"v":9.8},{"p":"d","x":0.2,"v":8.0}],
"h":[{"p":"a","x":50,"v":0.643},{"p":"a","x":100,"v":0.664},{"p":"a","x":200,"v":0.62},{"p":"b","x":50,"v":0.363},{"p":"b","x":100,"v":0.38},{"p":"b","x":200,"v":0.368},{"p":"d","x":50,"v":4},{"p":"d","x":100,"v":4},{"p":"d","x":200,"v":4}]
},
"vconcat":[
{"hconcat":[
{"width":270,"height":179,
 "layer":[
  {"data":{"name":"a_mod"},"mark":{"type":"line","color":"black","strokeWidth":1},
   "encoding":{"x":{"field":"x","type":"quantitative","scale":{"domain":[0,1]},"axis":{"values":[0,0.1,0.2,0.3,0.4,0.5,0.6,0.7,0.8,0.9,1],"format":"~g","labelExpr":"round(datum.value*10)%2===0 ? datum.label : ''","labelOverlap":false,"title":"N/Nₗ","tickSize":{"condition":{"test":"round(datum.value*10)%2!==0","value":-5},"value":-8},"labelPadding":13,"titlePadding":1}},
    "y":{"field":"y","type":"quantitative","scale":{"domain":[0,1]},"axis":{"values":[0,0.1,0.2,0.3,0.4,0.5,0.6,0.7,0.8,0.9,1],"labels":false,"title":"rᵤ","tickSize":{"condition":{"test":"round(datum.value*10)%2!==0","value":4},"value":9},"titlePadding":20}},
    "detail":{"field":"s"}}},
  {"data":{"name":"yticks"},"mark":{"type":"text","align":"right","baseline":"middle","dx":-14,"fontSize":10,"color":"#222"},
   "encoding":{"x":{"datum":0},"y":{"field":"v","type":"quantitative"},"text":{"field":"v","type":"quantitative","format":"~g"}}},
  {"data":{"name":"a_pts"},"mark":{"type":"line","color":"black","strokeWidth":1,"strokeDash":[4,3]},
   "encoding":{"x":{"field":"x","type":"quantitative"},"y":{"field":"y","type":"quantitative"},"detail":{"field":"s"}}},
  {"data":{"name":"a_pts"},"mark":{"type":"point","fill":"black","stroke":"black","strokeWidth":1,"opacity":1},
   "encoding":{"x":{"field":"x","type":"quantitative"},"y":{"field":"y","type":"quantitative"},
    "shape":{"field":"s","type":"nominal","scale":{"domain":["Dr=54%","Dr=68%","Dr=82%","Dr=90%"],"range":["M-1,-1L1,1M-1,1L1,-1","circle","M-1,0H1M0,-1V1","triangle-up"]},"legend":null},
    "size":{"field":"s","type":"ordinal","scale":{"domain":["Dr=54%","Dr=68%","Dr=82%","Dr=90%"],"range":[30,28,64,22]},"legend":null}}},
  {"data":{"name":"a_pts"},"mark":{"type":"point","size":0,"fill":"black","stroke":"black","strokeWidth":1,"opacity":1},
   "encoding":{"x":{"field":"x","type":"quantitative"},"y":{"field":"y","type":"quantitative"},
    "shape":{"field":"s","type":"nominal","scale":{"domain":["Dr=54%","Dr=68%","Dr=82%","Dr=90%","model"],"range":["M-1,0H-0.72M-0.5,0H0.5M0.72,0H1M-0.2,-0.2L0.2,0.2M-0.2,0.2L0.2,-0.2","M-1,0H-0.72M-0.5,0H0.5M0.72,0H1M-0.19,0A0.19,0.19 0 1,1 0.19,0A0.19,0.19 0 1,1 -0.19,0Z","M-1,0H-0.72M-0.5,0H0.5M0.72,0H1M0,-0.25V0.25","M-1,0H-0.72M-0.5,0H0.5M0.72,0H1M0,-0.2L0.2,0.16L-0.2,0.16Z","M-1,0H1"]},
     "legend":{"title":"Monterey sand","orient":"none","legendX":25,"legendY":7,"direction":"vertical","symbolSize":1024,"labelOffset":2,"rowPadding":2.5,"titlePadding":3}}}},
  {"data":{"values":[{}]},"mark":{"type":"rule","color":"#888","strokeWidth":1},"encoding":{"y":{"datum":1}}},
  {"data":{"values":[{"t":"(a)"}]},"mark":{"type":"text","align":"left","baseline":"middle","fontSize":16,"fontWeight":"bold"},"encoding":{"x":{"datum":0.011},"y":{"datum":0.933},"text":{"field":"t"}}}
 ],
 "resolve":{"scale":{"shape":"independent","size":"independent"}}
},
{"width":269,"height":179,
 "layer":[
  {"layer":[
   {"data":{"name":"b"},"transform":[{"filter":"datum.p !== 'd'"}],"mark":{"type":"line","color":"black","strokeWidth":1.3},
    "encoding":{"x":{"field":"x","type":"quantitative","scale":{"domain":[40,100]},"axis":{"values":[40,50,60,70,80,90,100],"labelExpr":"datum.value%20===0 ? datum.label : ''","labelOverlap":false,"title":"Dr [%]","titleX":177,"tickSize":{"condition":{"test":"datum.value%20!==0","value":-4},"value":-8},"labelPadding":13,"titlePadding":1}},
     "y":{"field":"v","type":"quantitative","scale":{"domain":[-0.2,1.2]},"axis":{"orient":"left","values":[-0.2,0,0.2,0.4,0.6,0.8,1,1.2],"labels":false,"title":"a, b","tickSize":{"condition":{"test":"round(datum.value*10)%4!==0","value":4},"value":9},"titlePadding":25}},
     "detail":{"field":"p"}}},
   {"data":{"name":"yticks2"},"mark":{"type":"text","align":"right","baseline":"middle","dx":-12,"fontSize":10,"color":"#222"},
    "encoding":{"x":{"datum":40},"y":{"field":"v","type":"quantitative"},"text":{"field":"v","type":"quantitative","format":"~g"}}},
   {"data":{"name":"b"},"transform":[{"filter":"datum.p === 'a'"}],"mark":{"type":"point","shape":"diamond","size":55,"fill":"black","stroke":"black","strokeWidth":1,"opacity":1},"encoding":{"x":{"field":"x","type":"quantitative"},"y":{"field":"v","type":"quantitative"}}},
   {"data":{"name":"b"},"transform":[{"filter":"datum.p === 'b'"}],"mark":{"type":"point","shape":"M-1,-1L1,1M-1,1L1,-1","size":64,"stroke":"black","strokeWidth":1,"opacity":1},"encoding":{"x":{"field":"x","type":"quantitative"},"y":{"field":"v","type":"quantitative"}}},
   {"data":{"name":"b"},"transform":[{"filter":"datum.p !== 'd'"}],"mark":{"type":"point","size":0,"fill":"black","stroke":"black","strokeWidth":1,"opacity":1},
    "encoding":{"x":{"field":"x","type":"quantitative"},"y":{"field":"v","type":"quantitative"},
     "shape":{"field":"p","type":"nominal","scale":{"domain":["a","b","d"],"range":["M-1,0H1M0,-0.4L0.3,0L0,0.4L-0.3,0Z","M-1,0H1M-0.35,-0.35L0.35,0.35M-0.35,0.35L0.35,-0.35","M-1,0H1M0,-0.4V0.4"]},
      "legend":{"title":"Effect of Dr","orient":"none","legendX":199,"legendY":86,"direction":"vertical","symbolSize":400,"labelOffset":7,"rowPadding":2.7,"titlePadding":3}}}},
   {"data":{"values":[{}]},"mark":{"type":"rule","color":"#888","strokeWidth":1},"encoding":{"y":{"datum":1.2}}},
   {"data":{"values":[{"t":"(b)"}]},"mark":{"type":"text","align":"left","baseline":"middle","fontSize":16,"fontWeight":"bold"},"encoding":{"x":{"datum":41.1},"y":{"datum":1.106},"text":{"field":"t"}}}
  ]},
  {"layer":[
   {"data":{"name":"b"},"transform":[{"filter":"datum.p === 'd'"}],"mark":{"type":"line","color":"black","strokeWidth":1.3},
    "encoding":{"x":{"field":"x","type":"quantitative"},"y":{"field":"v","type":"quantitative","scale":{"domain":[0,40]},"axis":{"orient":"right","values":[0,5,10,15,20,25,30,35,40],"labelExpr":"datum.value%10===0 ? datum.label : ''","labelOverlap":false,"title":"d","titleAngle":270,"tickSize":{"condition":{"test":"datum.value%10!==0","value":4},"value":9},"labelPadding":2,"titlePadding":11}}}},
   {"data":{"name":"b"},"transform":[{"filter":"datum.p === 'd'"}],"mark":{"type":"point","shape":"M-1,0H1M0,-1V1","size":64,"stroke":"black","strokeWidth":1,"opacity":1},"encoding":{"x":{"field":"x","type":"quantitative"},"y":{"field":"v","type":"quantitative"}}}
  ]}
 ],
 "resolve":{"scale":{"y":"independent","shape":"independent"}}
}
],"spacing":20},
{"hconcat":[
{"width":270,"height":179,
 "layer":[
  {"data":{"name":"c_mod"},"mark":{"type":"line","color":"black","strokeWidth":1},
   "encoding":{"x":{"field":"x","type":"quantitative","scale":{"domain":[0,1]},"axis":{"values":[0,0.1,0.2,0.3,0.4,0.5,0.6,0.7,0.8,0.9,1],"format":"~g","labelExpr":"round(datum.value*10)%2===0 ? datum.label : ''","labelOverlap":false,"title":"N/Nₗ","tickSize":{"condition":{"test":"round(datum.value*10)%2!==0","value":-5},"value":-8},"labelPadding":13,"titlePadding":1}},
    "y":{"field":"y","type":"quantitative","scale":{"domain":[0,1]},"axis":{"values":[0,0.1,0.2,0.3,0.4,0.5,0.6,0.7,0.8,0.9,1],"labels":false,"title":"rᵤ","tickSize":{"condition":{"test":"round(datum.value*10)%2!==0","value":4},"value":9},"titlePadding":20}},
    "detail":{"field":"s"}}},
  {"data":{"name":"yticks"},"mark":{"type":"text","align":"right","baseline":"middle","dx":-14,"fontSize":10,"color":"#222"},
   "encoding":{"x":{"datum":0},"y":{"field":"v","type":"quantitative"},"text":{"field":"v","type":"quantitative","format":"~g"}}},
  {"data":{"name":"c_pts"},"mark":{"type":"point","fill":"black","stroke":"black","strokeWidth":1,"opacity":1},
   "encoding":{"x":{"field":"x","type":"quantitative"},"y":{"field":"y","type":"quantitative"},
    "shape":{"field":"s","type":"nominal","scale":{"domain":["7% K","12% K","17% K","26% K","37% K"],"range":["square","M-1,0H1M0,-1V1","triangle-up","diamond","M-1,-1L1,1M-1,1L1,-1"]},"legend":null},
    "size":{"field":"s","type":"ordinal","scale":{"domain":["7% K","12% K","17% K","26% K","37% K"],"range":[22,64,12,14,36]},"legend":null}}},
  {"data":{"name":"c_pts"},"mark":{"type":"point","size":0,"fill":"black","stroke":"black","strokeWidth":1,"opacity":1},
   "encoding":{"x":{"field":"x","type":"quantitative"},"y":{"field":"y","type":"quantitative"},
    "shape":{"field":"s","type":"nominal","scale":{"domain":["7% K","12% K","17% K","26% K","37% K","model"],"range":["M-0.28,-0.28H0.28V0.28H-0.28Z","M-0.45,0H0.45M0,-0.45V0.45","M0,-0.25L0.22,0.15L-0.22,0.15Z","M0,-0.3L0.2,0L0,0.3L-0.2,0Z","M-0.35,-0.35L0.35,0.35M-0.35,0.35L0.35,-0.35","M-1,0H1"]},
     "legend":{"title":"Yatesville sand","orient":"none","legendX":201,"legendY":79,"direction":"vertical","symbolSize":400,"labelOffset":1,"rowPadding":2.3,"titlePadding":3}}}},
  {"data":{"values":[{}]},"mark":{"type":"rule","color":"#888","strokeWidth":1},"encoding":{"y":{"datum":1}}},
  {"data":{"values":[{"t":"(c)"}]},"mark":{"type":"text","align":"left","baseline":"middle","fontSize":16,"fontWeight":"bold"},"encoding":{"x":{"datum":0.011},"y":{"datum":0.922},"text":{"field":"t"}}}
 ],
 "resolve":{"scale":{"shape":"independent","size":"independent"}}
},
{"width":269,"height":179,
 "layer":[
  {"layer":[
   {"data":{"name":"d"},"transform":[{"filter":"datum.p !== 'd'"}],"mark":{"type":"line","color":"black","strokeWidth":1.3},
    "encoding":{"x":{"field":"x","type":"quantitative","scale":{"domain":[0,40]},"axis":{"values":[0,5,10,15,20,25,30,35,40],"labelExpr":"datum.value%10===0 ? datum.label : ''","labelOverlap":false,"title":"Kaolinite [%]","tickSize":{"condition":{"test":"datum.value%10!==0","value":-4},"value":-8},"labelPadding":13,"titlePadding":1}},
     "y":{"field":"v","type":"quantitative","scale":{"domain":[-0.2,1.2]},"axis":{"orient":"left","values":[-0.2,0,0.2,0.4,0.6,0.8,1,1.2],"labels":false,"title":"a, b","tickSize":{"condition":{"test":"round(datum.value*10)%4!==0","value":4},"value":9},"titlePadding":25}},
     "detail":{"field":"p"}}},
   {"data":{"name":"yticks2"},"mark":{"type":"text","align":"right","baseline":"middle","dx":-12,"fontSize":10,"color":"#222"},
    "encoding":{"x":{"datum":0},"y":{"field":"v","type":"quantitative"},"text":{"field":"v","type":"quantitative","format":"~g"}}},
   {"data":{"name":"d"},"transform":[{"filter":"datum.p === 'a'"}],"mark":{"type":"point","shape":"diamond","size":55,"fill":"black","stroke":"black","strokeWidth":1,"opacity":1},"encoding":{"x":{"field":"x","type":"quantitative"},"y":{"field":"v","type":"quantitative"}}},
   {"data":{"name":"d"},"transform":[{"filter":"datum.p === 'b'"}],"mark":{"type":"point","shape":"M-1,-1L1,1M-1,1L1,-1","size":64,"stroke":"black","strokeWidth":1,"opacity":1},"encoding":{"x":{"field":"x","type":"quantitative"},"y":{"field":"v","type":"quantitative"}}},
   {"data":{"name":"d"},"transform":[{"filter":"datum.p !== 'd'"}],"mark":{"type":"point","size":0,"fill":"black","stroke":"black","strokeWidth":1,"opacity":1},
    "encoding":{"x":{"field":"x","type":"quantitative"},"y":{"field":"v","type":"quantitative"},
     "shape":{"field":"p","type":"nominal","scale":{"domain":["a","b","d"],"range":["M-1,0H1M0,-0.4L0.3,0L0,0.4L-0.3,0Z","M-1,0H1M-0.35,-0.35L0.35,0.35M-0.35,0.35L0.35,-0.35","M-1,0H1M0,-0.4V0.4"]},
      "legend":{"title":"Effect of CF","orient":"none","legendX":207,"legendY":116,"direction":"vertical","symbolSize":400,"labelOffset":7,"rowPadding":2.7,"titlePadding":3}}}},
   {"data":{"values":[{}]},"mark":{"type":"rule","color":"#888","strokeWidth":1},"encoding":{"y":{"datum":1.2}}},
   {"data":{"values":[{"t":"(d)"}]},"mark":{"type":"text","align":"left","baseline":"middle","fontSize":16,"fontWeight":"bold"},"encoding":{"x":{"datum":0.74},"y":{"datum":1.09},"text":{"field":"t"}}}
  ]},
  {"layer":[
   {"data":{"name":"d"},"transform":[{"filter":"datum.p === 'd'"}],"mark":{"type":"line","color":"black","strokeWidth":1.3},
    "encoding":{"x":{"field":"x","type":"quantitative"},"y":{"field":"v","type":"quantitative","scale":{"domain":[0,40]},"axis":{"orient":"right","values":[0,5,10,15,20,25,30,35,40],"labelExpr":"datum.value%10===0 ? datum.label : ''","labelOverlap":false,"title":"d","titleAngle":270,"tickSize":{"condition":{"test":"datum.value%10!==0","value":4},"value":9},"labelPadding":2,"titlePadding":11}}}},
   {"data":{"name":"d"},"transform":[{"filter":"datum.p === 'd'"}],"mark":{"type":"point","shape":"M-1,0H1M0,-1V1","size":64,"stroke":"black","strokeWidth":1,"opacity":1},"encoding":{"x":{"field":"x","type":"quantitative"},"y":{"field":"v","type":"quantitative"}}}
  ]}
 ],
 "resolve":{"scale":{"y":"independent","shape":"independent"}}
}
],"spacing":20},
{"hconcat":[
{"width":270,"height":179,
 "layer":[
  {"data":{"name":"e_mod"},"mark":{"type":"line","color":"black","strokeWidth":1},
   "encoding":{"x":{"field":"x","type":"quantitative","scale":{"domain":[0,1]},"axis":{"values":[0,0.1,0.2,0.3,0.4,0.5,0.6,0.7,0.8,0.9,1],"format":"~g","labelExpr":"round(datum.value*10)%2===0 ? datum.label : ''","labelOverlap":false,"title":"N/Nₗ","tickSize":{"condition":{"test":"round(datum.value*10)%2!==0","value":-5},"value":-8},"labelPadding":13,"titlePadding":1}},
    "y":{"field":"y","type":"quantitative","scale":{"domain":[0,1]},"axis":{"values":[0,0.1,0.2,0.3,0.4,0.5,0.6,0.7,0.8,0.9,1],"labels":false,"title":"rᵤ","tickSize":{"condition":{"test":"round(datum.value*10)%2!==0","value":4},"value":9},"titlePadding":20}},
    "detail":{"field":"s"}}},
  {"data":{"name":"yticks"},"mark":{"type":"text","align":"right","baseline":"middle","dx":-14,"fontSize":10,"color":"#222"},
   "encoding":{"x":{"datum":0},"y":{"field":"v","type":"quantitative"},"text":{"field":"v","type":"quantitative","format":"~g"}}},
  {"data":{"name":"e_pts"},"mark":{"type":"point","fill":"black","stroke":"black","strokeWidth":1,"opacity":1},
   "encoding":{"x":{"field":"x","type":"quantitative"},"y":{"field":"y","type":"quantitative"},
    "shape":{"field":"s","type":"nominal","scale":{"domain":["CSR=0.125","CSR=0.15","CSR=0.175","CSR=0.2"],"range":["M-1,-1L1,1M-1,1L1,-1","circle","diamond","M-1,0H1M0,-1V1"]},"legend":null},
    "size":{"field":"s","type":"ordinal","scale":{"domain":["CSR=0.125","CSR=0.15","CSR=0.175","CSR=0.2"],"range":[30,30,14,110]},"legend":null}}},
  {"data":{"name":"e_pts"},"mark":{"type":"point","size":0,"fill":"black","stroke":"black","strokeWidth":1,"opacity":1},
   "encoding":{"x":{"field":"x","type":"quantitative"},"y":{"field":"y","type":"quantitative"},
    "shape":{"field":"s","type":"nominal","scale":{"domain":["CSR=0.125","CSR=0.15","CSR=0.175","CSR=0.2","model"],"range":["M-0.3,-0.3L0.3,0.3M-0.3,0.3L0.3,-0.3","M-0.33,0A0.33,0.33 0 1,1 0.33,0A0.33,0.33 0 1,1 -0.33,0Z","M0,-0.33L0.22,0L0,0.33L-0.22,0Z","M-0.6,0H0.6M0,-0.6V0.6","M-1,0H1"]},
     "legend":{"title":"Indian silty sand","orient":"none","legendX":34,"legendY":6,"direction":"vertical","symbolSize":324,"labelOffset":5,"rowPadding":2.3,"titlePadding":3.4}}}},
  {"data":{"values":[{}]},"mark":{"type":"rule","color":"#888","strokeWidth":1},"encoding":{"y":{"datum":1}}},
  {"data":{"values":[{"t":"(e)"}]},"mark":{"type":"text","align":"left","baseline":"middle","fontSize":16,"fontWeight":"bold"},"encoding":{"x":{"datum":0.011},"y":{"datum":0.918},"text":{"field":"t"}}}
 ],
 "resolve":{"scale":{"shape":"independent","size":"independent"}}
},
{"width":269,"height":179,
 "layer":[
  {"layer":[
   {"data":{"name":"f"},"transform":[{"filter":"datum.p !== 'd'"}],"mark":{"type":"line","color":"black","strokeWidth":1.3},
    "encoding":{"x":{"field":"x","type":"quantitative","scale":{"domain":[0.1,0.22]},"axis":{"values":[0.1,0.12,0.14,0.16,0.18,0.2,0.22],"format":"~g","labelExpr":"round(datum.value*100)%4===0 ? datum.label : ''","labelOverlap":false,"title":"CSR","tickSize":{"condition":{"test":"round(datum.value*100)%4!==0","value":-4},"value":-8},"labelPadding":13,"titlePadding":1}},
     "y":{"field":"v","type":"quantitative","scale":{"domain":[-0.2,1.2]},"axis":{"orient":"left","values":[-0.2,0,0.2,0.4,0.6,0.8,1,1.2],"labels":false,"title":"a, b","tickSize":{"condition":{"test":"round(datum.value*10)%4!==0","value":4},"value":9},"titlePadding":25}},
     "detail":{"field":"p"}}},
   {"data":{"name":"yticks2"},"mark":{"type":"text","align":"right","baseline":"middle","dx":-12,"fontSize":10,"color":"#222"},
    "encoding":{"x":{"datum":0.1},"y":{"field":"v","type":"quantitative"},"text":{"field":"v","type":"quantitative","format":"~g"}}},
   {"data":{"name":"f"},"transform":[{"filter":"datum.p === 'a'"}],"mark":{"type":"point","shape":"diamond","size":55,"fill":"black","stroke":"black","strokeWidth":1,"opacity":1},"encoding":{"x":{"field":"x","type":"quantitative"},"y":{"field":"v","type":"quantitative"}}},
   {"data":{"name":"f"},"transform":[{"filter":"datum.p === 'b'"}],"mark":{"type":"point","shape":"M-1,-1L1,1M-1,1L1,-1","size":64,"stroke":"black","strokeWidth":1,"opacity":1},"encoding":{"x":{"field":"x","type":"quantitative"},"y":{"field":"v","type":"quantitative"}}},
   {"data":{"name":"f"},"transform":[{"filter":"datum.p !== 'd'"}],"mark":{"type":"point","size":0,"fill":"black","stroke":"black","strokeWidth":1,"opacity":1},
    "encoding":{"x":{"field":"x","type":"quantitative"},"y":{"field":"v","type":"quantitative"},
     "shape":{"field":"p","type":"nominal","scale":{"domain":["a","b","d"],"range":["M-1,0H1M0,-0.4L0.3,0L0,0.4L-0.3,0Z","M-1,0H1M-0.35,-0.35L0.35,0.35M-0.35,0.35L0.35,-0.35","M-1,0H1M0,-0.4V0.4"]},
      "legend":{"title":"Effect of CSR","orient":"none","legendX":30,"legendY":6,"direction":"vertical","symbolSize":400,"labelOffset":7,"rowPadding":2.7,"titlePadding":3}}}},
   {"data":{"values":[{}]},"mark":{"type":"rule","color":"#888","strokeWidth":1},"encoding":{"y":{"datum":1.2}}},
   {"data":{"values":[{"t":"(f)"}]},"mark":{"type":"text","align":"left","baseline":"middle","fontSize":16,"fontWeight":"bold"},"encoding":{"x":{"datum":0.1022},"y":{"datum":1.106},"text":{"field":"t"}}}
  ]},
  {"layer":[
   {"data":{"name":"f"},"transform":[{"filter":"datum.p === 'd'"}],"mark":{"type":"line","color":"black","strokeWidth":1.3},
    "encoding":{"x":{"field":"x","type":"quantitative"},"y":{"field":"v","type":"quantitative","scale":{"domain":[0,40]},"axis":{"orient":"right","values":[0,5,10,15,20,25,30,35,40],"labelExpr":"datum.value%10===0 ? datum.label : ''","labelOverlap":false,"title":"d","titleAngle":270,"tickSize":{"condition":{"test":"datum.value%10!==0","value":4},"value":9},"labelPadding":2,"titlePadding":11}}}},
   {"data":{"name":"f"},"transform":[{"filter":"datum.p === 'd'"}],"mark":{"type":"point","shape":"M-1,0H1M0,-1V1","size":64,"stroke":"black","strokeWidth":1,"opacity":1},"encoding":{"x":{"field":"x","type":"quantitative"},"y":{"field":"v","type":"quantitative"}}}
  ]}
 ],
 "resolve":{"scale":{"y":"independent","shape":"independent"}}
}
],"spacing":20},
{"hconcat":[
{"width":270,"height":179,
 "layer":[
  {"data":{"name":"g_mod"},"mark":{"type":"line","color":"#666","strokeWidth":1},
   "encoding":{"x":{"field":"x","type":"quantitative","scale":{"domain":[0,1]},"axis":{"values":[0,0.1,0.2,0.3,0.4,0.5,0.6,0.7,0.8,0.9,1],"format":"~g","labelExpr":"round(datum.value*10)%2===0 ? datum.label : ''","labelOverlap":false,"title":"N/Nₗ","tickSize":{"condition":{"test":"round(datum.value*10)%2!==0","value":-5},"value":-8},"labelPadding":13,"titlePadding":1}},
    "y":{"field":"y","type":"quantitative","scale":{"domain":[0,1]},"axis":{"values":[0,0.1,0.2,0.3,0.4,0.5,0.6,0.7,0.8,0.9,1],"labels":false,"title":"rᵤ","tickSize":{"condition":{"test":"round(datum.value*10)%2!==0","value":4},"value":9},"titlePadding":20}},
    "detail":{"field":"s"}}},
  {"data":{"name":"yticks"},"mark":{"type":"text","align":"right","baseline":"middle","dx":-14,"fontSize":10,"color":"#222"},
   "encoding":{"x":{"datum":0},"y":{"field":"v","type":"quantitative"},"text":{"field":"v","type":"quantitative","format":"~g"}}},
  {"data":{"name":"g_pts"},"mark":{"type":"point","fill":"black","stroke":"black","strokeWidth":1,"opacity":1},
   "encoding":{"x":{"field":"x","type":"quantitative"},"y":{"field":"y","type":"quantitative"},
    "shape":{"field":"s","type":"nominal","scale":{"domain":["σ₀' = 50 kPa","σ₀' = 100 kPa","σ₀' = 200 kPa"],"range":["M-1,-1L1,1M-1,1L1,-1","circle","diamond"]},"legend":null},
    "size":{"field":"s","type":"ordinal","scale":{"domain":["σ₀' = 50 kPa","σ₀' = 100 kPa","σ₀' = 200 kPa"],"range":[25,30,14]},"legend":null}}},
  {"data":{"name":"g_pts"},"mark":{"type":"point","size":0,"fill":"black","stroke":"black","strokeWidth":1,"opacity":1},
   "encoding":{"x":{"field":"x","type":"quantitative"},"y":{"field":"y","type":"quantitative"},
    "shape":{"field":"s","type":"nominal","scale":{"domain":["σ₀' = 50 kPa","σ₀' = 100 kPa","σ₀' = 200 kPa","model"],"range":["M-0.3,-0.3L0.3,0.3M-0.3,0.3L0.3,-0.3","M-0.33,0A0.33,0.33 0 1,1 0.33,0A0.33,0.33 0 1,1 -0.33,0Z","M0,-0.33L0.22,0L0,0.33L-0.22,0Z","M-1,0H1"]},
     "legend":{"title":"Indian silty sand","orient":"none","legendX":180,"legendY":93,"direction":"vertical","symbolSize":324,"labelOffset":4,"rowPadding":4.4,"titlePadding":4.5}}}},
  {"data":{"values":[{}]},"mark":{"type":"rule","color":"#888","strokeWidth":1},"encoding":{"y":{"datum":1}}},
  {"data":{"values":[{"t":"(g)"}]},"mark":{"type":"text","align":"left","baseline":"middle","fontSize":16,"fontWeight":"bold"},"encoding":{"x":{"datum":0.011},"y":{"datum":0.927},"text":{"field":"t"}}}
 ],
 "resolve":{"scale":{"shape":"independent","size":"independent"}}
},
{"width":269,"height":179,
 "layer":[
  {"layer":[
   {"data":{"name":"h"},"transform":[{"filter":"datum.p !== 'd'"}],"mark":{"type":"line","color":"black","strokeWidth":1.3},
    "encoding":{"x":{"field":"x","type":"quantitative","scale":{"domain":[0,250]},"axis":{"values":[0,25,50,75,100,125,150,175,200,225,250],"labelExpr":"datum.value%50===0 ? datum.label : ''","labelOverlap":false,"title":"σ'₀ [kPa]","tickSize":{"condition":{"test":"datum.value%50!==0","value":-4},"value":-8},"labelPadding":13,"titlePadding":1}},
     "y":{"field":"v","type":"quantitative","scale":{"domain":[-0.2,1.2]},"axis":{"orient":"left","values":[-0.2,0,0.2,0.4,0.6,0.8,1,1.2],"labels":false,"title":"a, b","tickSize":{"condition":{"test":"round(datum.value*10)%4!==0","value":4},"value":9},"titlePadding":25}},
     "detail":{"field":"p"}}},
   {"data":{"name":"yticks2"},"mark":{"type":"text","align":"right","baseline":"middle","dx":-12,"fontSize":10,"color":"#222"},
    "encoding":{"x":{"datum":0},"y":{"field":"v","type":"quantitative"},"text":{"field":"v","type":"quantitative","format":"~g"}}},
   {"data":{"name":"h"},"transform":[{"filter":"datum.p === 'a'"}],"mark":{"type":"point","shape":"diamond","size":55,"fill":"black","stroke":"black","strokeWidth":1,"opacity":1},"encoding":{"x":{"field":"x","type":"quantitative"},"y":{"field":"v","type":"quantitative"}}},
   {"data":{"name":"h"},"transform":[{"filter":"datum.p === 'b'"}],"mark":{"type":"point","shape":"M-1,-1L1,1M-1,1L1,-1","size":64,"stroke":"black","strokeWidth":1,"opacity":1},"encoding":{"x":{"field":"x","type":"quantitative"},"y":{"field":"v","type":"quantitative"}}},
   {"data":{"name":"h"},"transform":[{"filter":"datum.p !== 'd'"}],"mark":{"type":"point","size":0,"fill":"black","stroke":"black","strokeWidth":1,"opacity":1},
    "encoding":{"x":{"field":"x","type":"quantitative"},"y":{"field":"v","type":"quantitative"},
     "shape":{"field":"p","type":"nominal","scale":{"domain":["a","b","d"],"range":["M-1,0H1M0,-0.4L0.3,0L0,0.4L-0.3,0Z","M-1,0H1M-0.35,-0.35L0.35,0.35M-0.35,0.35L0.35,-0.35","M-1,0H1M0,-0.4V0.4"]},
      "legend":{"title":"Effect of σ'₀","orient":"none","legendX":207,"legendY":7,"direction":"vertical","symbolSize":400,"labelOffset":7,"rowPadding":2.7,"titlePadding":3}}}},
   {"data":{"values":[{}]},"mark":{"type":"rule","color":"#888","strokeWidth":1},"encoding":{"y":{"datum":1.2}}},
   {"data":{"values":[{"t":"(h)"}]},"mark":{"type":"text","align":"left","baseline":"middle","fontSize":16,"fontWeight":"bold"},"encoding":{"x":{"datum":4.6},"y":{"datum":1.106},"text":{"field":"t"}}}
  ]},
  {"layer":[
   {"data":{"name":"h"},"transform":[{"filter":"datum.p === 'd'"}],"mark":{"type":"line","color":"black","strokeWidth":1.3},
    "encoding":{"x":{"field":"x","type":"quantitative"},"y":{"field":"v","type":"quantitative","scale":{"domain":[0,40]},"axis":{"orient":"right","values":[0,5,10,15,20,25,30,35,40],"labelExpr":"datum.value%10===0 ? datum.label : ''","labelOverlap":false,"title":"d","titleAngle":270,"tickSize":{"condition":{"test":"datum.value%10!==0","value":4},"value":9},"labelPadding":2,"titlePadding":11}}}},
   {"data":{"name":"h"},"transform":[{"filter":"datum.p === 'd'"}],"mark":{"type":"point","shape":"M-1,0H1M0,-1V1","size":64,"stroke":"black","strokeWidth":1,"opacity":1},"encoding":{"x":{"field":"x","type":"quantitative"},"y":{"field":"v","type":"quantitative"}}}
  ]}
 ],
 "resolve":{"scale":{"y":"independent","shape":"independent"}}
}
],"spacing":20}
]
}
